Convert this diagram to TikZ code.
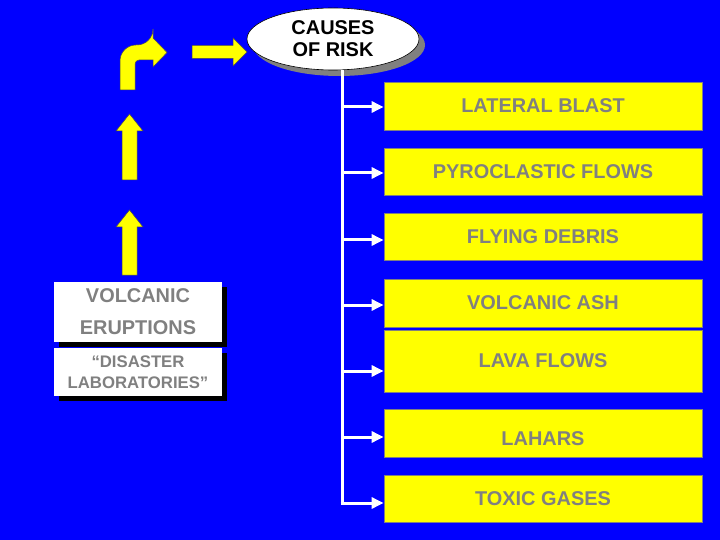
\documentclass[tikz,border=0pt]{standalone}
\usepackage{fontspec}
\setmainfont{Liberation Sans}
\usetikzlibrary{arrows.meta,shapes.geometric,shadows}
\definecolor{bg}{RGB}{0,0,255}
\definecolor{yel}{RGB}{255,255,0}
\definecolor{txtgray}{RGB}{128,128,128}
\tikzset{
  riskbox/.style={draw=txtgray, line width=0.8bp, fill=yel, minimum width=318bp,
    inner sep=0pt, text=txtgray, font=\fontsize{20}{22}\selectfont\bfseries},
  whitebox/.style={fill=white, minimum width=168bp, inner sep=0pt, text=txtgray,
    align=center, drop shadow={shadow xshift=5bp, shadow yshift=-5bp, fill=black, opacity=1}},
  branch/.style={white, line width=3bp, -{Triangle[length=12bp,width=11bp]}},
  trunk/.style={white, line width=3bp},
  blockarrow/.style={fill=yel, draw=black!70, line width=0.5bp}
}
\begin{document}
\begin{tikzpicture}[x=1bp,y=-1bp]
\fill[bg] (0,0) rectangle (720,540);
\useasboundingbox (0,0) rectangle (720,540);

% ellipse
\node[ellipse, draw=black, line width=0.6bp, fill=white, minimum width=172bp, minimum height=62bp,
  inner sep=0pt, align=center, font=\fontsize{20}{22}\selectfont\bfseries,
  drop shadow={shadow xshift=6bp, shadow yshift=-6bp, fill=txtgray, opacity=1}]
  (ell) at (333,39) {CAUSES\\OF RISK};

% right boxes
\node[riskbox, minimum height=48bp] (lb) at (543,106) {LATERAL BLAST};
\node[riskbox, minimum height=47bp] (pf) at (543,171.5) {PYROCLASTIC FLOWS};
\node[riskbox, minimum height=47bp] (fd) at (543,236.5) {FLYING DEBRIS};
\node[riskbox, minimum height=48bp] (va) at (543,303) {VOLCANIC ASH};
\node[riskbox, minimum height=62bp] (lf) at (543,361) {LAVA FLOWS};
\node[riskbox, minimum height=48bp, text height=24bp, text depth=0bp] (la) at (543,433) {LAHARS};
\node[riskbox, minimum height=47bp] (tg) at (543,498.5) {TOXIC GASES};

% trunk and branches
\coordinate (j1) at (342,107);
\coordinate (j2) at (342,173);
\coordinate (j3) at (342,240);
\coordinate (j4) at (342,305);
\coordinate (j5) at (342,371);
\coordinate (j6) at (342,437);
\coordinate (j7) at (342,503);
\draw[trunk] (ell.south -| j1) -- (j7);
\draw[branch] (j1) -- (j1 -| lb.west);
\draw[branch] (j2) -- (j2 -| pf.west);
\draw[branch] (j3) -- (j3 -| fd.west);
\draw[branch] (j4) -- (j4 -| va.west);
\draw[branch] (j5) -- (j5 -| lf.west);
\draw[branch] (j6) -- (j6 -| la.west);
\draw[branch, shorten <=-1.5bp] (j7) -- (j7 -| tg.west);

% left boxes
\node[whitebox, minimum height=60bp, font=\fontsize{20}{32}\selectfont\bfseries]
  (ve) at (138,312) {VOLCANIC\\ERUPTIONS};
\node[whitebox, minimum height=48bp, font=\fontsize{16.8}{21}\selectfont\bfseries]
  (dl) at (138,372) {“DISASTER\\LABORATORIES”};

% yellow block arrows
\filldraw[blockarrow] (122,275) -- (122,227) -- (116,227) -- (129.5,210) -- (143,227) -- (137,227) -- (137,275) -- cycle;
\filldraw[blockarrow] (122,180) -- (122,131) -- (116,131) -- (129.5,114) -- (143,131) -- (137,131) -- (137,180) -- cycle;
\filldraw[blockarrow] (120,90) [rounded corners=16bp] -- (120,45) -- (153,45) [sharp corners] -- (153,38) -- (167,52.5) -- (153,67) -- (153,60) [rounded corners=4bp] -- (135,60) [sharp corners] -- (135,90) -- cycle;
\filldraw[blockarrow] (192,45.5) -- (233,45.5) -- (233,38) -- (247,52) -- (233,66) -- (233,58.5) -- (192,58.5) -- cycle;
\end{tikzpicture}
\end{document}
